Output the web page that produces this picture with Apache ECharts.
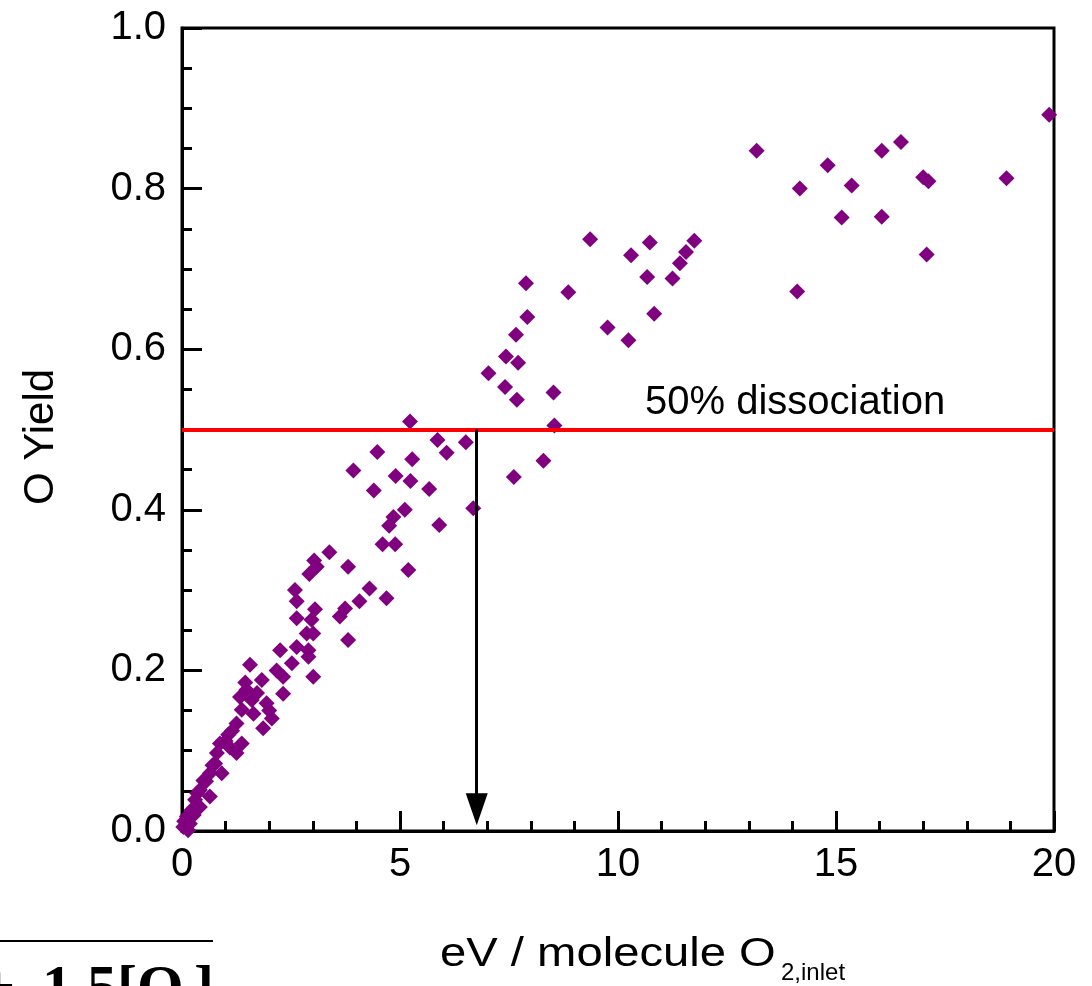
<!DOCTYPE html>
<html><head><meta charset="utf-8">
<script src="https://cdn.jsdelivr.net/npm/echarts@6/dist/echarts.min.js"></script>
<style>html,body{margin:0;padding:0;background:#fff;overflow:hidden}#c{width:1092px;height:986px}</style>
</head><body><div id="c"></div>
<script>
// ---- data ----
const xTickValues = [0, 5, 10, 15, 20];
const yTickValues = [0.0, 0.2, 0.4, 0.6, 0.8, 1.0];
const xAxisTitle = 'eV / molecule O';
const xAxisTitleSub = '2,inlet';
const yAxisTitle = 'O Yield';
const thresholdLabel = '50% dissociation';
const thresholdYield = 0.5;
const thresholdEnergy = 6.76;

const energyEV = [
  19.89, 18.91, 17.00, 17.12, 17.08, 16.49, 16.05, 16.05, 15.36, 15.13,
  14.81, 14.17, 14.11, 13.18, 11.75, 11.56, 11.42, 11.25, 10.83, 10.73,
  10.67, 10.30, 10.24, 9.76, 9.36, 8.86, 7.89, 7.92, 7.66, 7.43,
  7.71, 7.03, 7.41, 7.68, 8.52, 8.54, 8.29, 7.61, 6.68, 6.51,
  6.07, 5.86, 5.23, 4.48, 5.28, 3.93, 4.90, 5.24, 4.40, 5.67,
  5.11, 4.85, 4.75, 5.90, 4.60, 4.89, 3.38, 3.03, 3.09, 3.81,
  5.19, 2.92, 4.30, 4.07, 4.69, 2.59, 2.63, 3.05, 3.74, 2.63,
  3.62, 2.97, 2.86, 3.01, 3.81, 2.25, 2.63, 2.90, 2.90, 1.56,
  1.83, 1.48, 1.33, 2.17, 2.52, 2.32, 3.01, 1.60, 1.94, 2.32,
  1.37, 1.64, 2.06, 1.86, 1.25, 1.06, 0.87, 1.37, 1.25, 0.80,
  0.76, 0.64, 0.91, 0.49, 0.41, 0.64, 0.30, 0.22, 0.41, 0.11,
  0.18, 0.03, 0.14, 1.00, 1.15, 0.55, 0.70, 0.35, 1.10, 0.27,
  0.05, 1.45, 1.72, 2.00
];
const oYield = [
  0.892, 0.813, 0.814, 0.809, 0.718, 0.858, 0.847, 0.765, 0.804, 0.764,
  0.829, 0.800, 0.672, 0.847, 0.735, 0.721, 0.707, 0.688, 0.644, 0.733,
  0.690, 0.717, 0.611, 0.627, 0.737, 0.671, 0.682, 0.640, 0.618, 0.591,
  0.583, 0.570, 0.553, 0.537, 0.546, 0.505, 0.461, 0.441, 0.402, 0.484,
  0.471, 0.487, 0.510, 0.472, 0.463, 0.449, 0.442, 0.436, 0.424, 0.426,
  0.400, 0.391, 0.380, 0.381, 0.357, 0.357, 0.347, 0.337, 0.329, 0.329,
  0.325, 0.320, 0.302, 0.286, 0.290, 0.300, 0.286, 0.276, 0.277, 0.265,
  0.267, 0.263, 0.246, 0.246, 0.238, 0.225, 0.229, 0.225, 0.217, 0.207,
  0.188, 0.176, 0.167, 0.200, 0.209, 0.192, 0.192, 0.163, 0.159, 0.171,
  0.151, 0.146, 0.140, 0.128, 0.134, 0.120, 0.109, 0.109, 0.097, 0.097,
  0.084, 0.072, 0.072, 0.063, 0.051, 0.043, 0.039, 0.026, 0.030, 0.018,
  0.009, 0.005, 0.001, 0.112, 0.125, 0.062, 0.082, 0.047, 0.104, 0.020,
  0.012, 0.185, 0.172, 0.150
];
// ---- chart ----
const points = energyEV.map((x, i) => [x, oYield[i]]);
const FONT = '"Liberation Sans", Arial, sans-serif';
const SERIF = '"Liberation Serif", "Times New Roman", serif';
const chart = echarts.init(document.getElementById('c'), null, {renderer: 'canvas'});
const axisCommon = {
  type: 'value',
  axisLine: {show: true, onZero: false, lineStyle: {color: '#000', width: 3}},
  axisTick: {show: true, inside: true, length: 20, lineStyle: {color: '#000', width: 3}},
  minorTick: {show: true, length: 10, lineStyle: {color: '#000', width: 3}},
  splitLine: {show: false},
  minorSplitLine: {show: false}
};
chart.setOption({
  animation: false,
  backgroundColor: '#fff',
  grid: {left: 182, right: 38, top: 28, bottom: 155, show: true, borderColor: '#000', borderWidth: 3, backgroundColor: 'transparent'},
  xAxis: Object.assign({}, axisCommon, {
    min: xTickValues[0], max: xTickValues[xTickValues.length - 1], interval: xTickValues[1] - xTickValues[0],
    minorTick: Object.assign({}, axisCommon.minorTick, {splitNumber: 5}),
    axisLabel: {fontSize: 40, color: '#000', fontFamily: FONT, margin: 14}
  }),
  yAxis: Object.assign({}, axisCommon, {
    min: yTickValues[0], max: yTickValues[yTickValues.length - 1], interval: yTickValues[1] - yTickValues[0],
    minorTick: Object.assign({}, axisCommon.minorTick, {splitNumber: 4}),
    axisLabel: {fontSize: 40, color: '#000', fontFamily: FONT, margin: 16, formatter: v => v.toFixed(1)}
  }),
  series: [{
    type: 'scatter',
    data: points,
    symbol: 'diamond',
    symbolSize: 16,
    itemStyle: {color: '#800080', opacity: 1},
    z: 3,
    markLine: {
      silent: true,
      animation: false,
      label: {show: false},
      data: [
        [{coord: [xTickValues[0], thresholdYield], symbol: 'none', lineStyle: {color: '#ff0000', width: 4, type: 'solid'}},
         {coord: [xTickValues[xTickValues.length - 1], thresholdYield], symbol: 'none'}],
        [{coord: [thresholdEnergy, thresholdYield], symbol: 'none', lineStyle: {color: '#000', width: 3, type: 'solid'}},
         {coord: [thresholdEnergy, 0.027], symbol: 'triangle', symbolSize: [22, 32]}]
      ]
    }
  }]
});
const labelPos = chart.convertToPixel({gridIndex: 0}, [10.62, 0.533]);
function txt(x, y, text, font, extra, align) {
  return Object.assign({type: 'text', x: x, y: y, z: 10,
    style: {text: text, font: font, fill: '#000', align: align || 'left', verticalAlign: 'middle'}}, extra || {});
}
chart.setOption({
  graphic: [
    txt(labelPos[0], labelPos[1], thresholdLabel, '40px ' + FONT),
    txt(440, 955, xAxisTitle, '40px ' + FONT, {scaleX: 1.18}),
    txt(781, 973, xAxisTitleSub, '24px ' + FONT),
    {type: 'text', x: 41, y: 437, rotation: Math.PI / 2, z: 10,
     style: {text: yAxisTitle, font: '42px ' + FONT, fill: '#000', align: 'center', verticalAlign: 'middle'}},
    {type: 'line', shape: {x1: 0, y1: 941, x2: 213, y2: 941}, style: {stroke: '#000', lineWidth: 2}},
    txt(-2, 990, '+', 'bold 60px ' + SERIF, null, 'center'),
    txt(42, 990, '1.5[O', 'bold 60px ' + SERIF),
    txt(180, 1012, '2', 'bold 36px ' + SERIF),
    txt(194, 990, ']', 'bold 60px ' + SERIF)
  ]
});
</script>
</body></html>
